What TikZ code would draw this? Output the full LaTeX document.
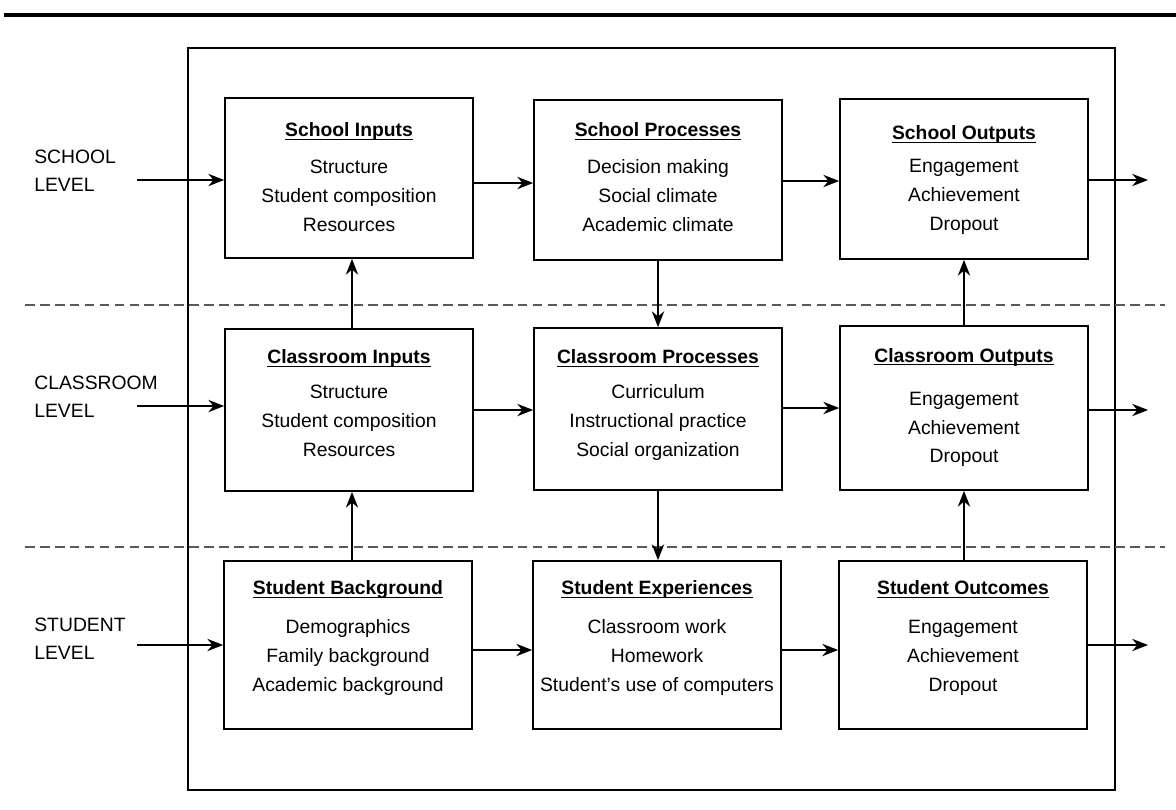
\documentclass[tikz,border=0pt]{standalone}
\usepackage{fontspec}
\setmainfont{Liberation Sans}
\usetikzlibrary{arrows.meta}
\newcommand{\boxtitle}[2][0pt]{\rule{0pt}{#1}\underline{\smash{\textbf{#2}}}}
\begin{document}
\begin{tikzpicture}[x=0.02cm,y=-0.02cm,
    box/.style={draw,line width=1pt,minimum width=4.96cm,align=center,inner sep=0pt,
      font=\fontsize{11}{16.4}\selectfont},
    lvl/.style={anchor=west,align=left,inner sep=0pt,font=\fontsize{11}{15.9}\selectfont},
    flow/.style={-{Stealth[length=9pt,width=7pt]},line width=1pt},
    sep/.style={black!65,line width=1.4pt,dash pattern=on 5.5pt off 3pt}]
    \useasboundingbox (0,0) rectangle (1176,809);
    \draw[line width=2.8pt] (4,15) -- (1176,15);
    \draw[line width=0.8pt] (188,48) rectangle (1115,790);
    \draw[sep] (25,305) -- (1165,305);
    \draw[sep] (25,547) -- (1165,547);
    % levels
    \node[lvl] (lvS) at (34,171) {SCHOOL\\LEVEL};
    \node[lvl] (lvC) at (34,397) {CLASSROOM\\LEVEL};
    \node[lvl] (lvSt) at (34,639) {STUDENT\\LEVEL};
    % school row
    \node[box,minimum height=3.2cm] (sIn) at (349,178)
        {\boxtitle[6.7pt]{School Inputs}\\[4.6pt] Structure\\ Student composition\\ Resources};
    \node[box,minimum height=3.2cm] (sPr) at (658,180)
        {\boxtitle[4.5pt]{School Processes}\\[4.6pt] Decision making\\ Social climate\\ Academic climate};
    \node[box,minimum height=3.2cm] (sOut) at (964,179)
        {\boxtitle[9.1pt]{School Outputs}\\[2.4pt] Engagement\\ Achievement\\ Dropout};
    % classroom row
    \node[box,minimum height=3.24cm] (cIn) at (349,410)
        {\boxtitle{Classroom Inputs}\\[3.5pt] Structure\\ Student composition\\ Resources};
    \node[box,minimum height=3.24cm] (cPr) at (658,409)
        {\boxtitle[3.4pt]{Classroom Processes}\\[3.5pt] Curriculum\\ Instructional practice\\ Social organization};
    \node[box,minimum height=3.28cm] (cOut) at (964,408)
        {\boxtitle[7.5pt]{Classroom Outputs}\\[8pt] Engagement\\ Achievement\\ Dropout};
    % student row
    \node[box,minimum height=3.36cm] (stBg) at (348,645)
        {\boxtitle{Student Background}\\[6pt] Demographics\\ Family background\\ Academic background};
    \node[box,minimum height=3.36cm] (stEx) at (657,645)
        {\boxtitle{Student Experiences}\\[5.5pt] Classroom work\\ Homework\\ Student's use of computers};
    \node[box,minimum height=3.36cm] (stOut) at (963,645)
        {\boxtitle{Student Outcomes}\\[6pt] Engagement\\ Achievement\\ Dropout};
    % free ends
    \coordinate (inS) at (137,180);
    \coordinate (inC) at (137,406);
    \coordinate (inSt) at (137,645);
    \coordinate (outS) at (1148,180);
    \coordinate (outC) at (1148,410);
    \coordinate (outSt) at (1148,645);
    % horizontal flow
    \draw[flow] (inS) -- (inS -| sIn.west);
    \draw[flow] (sIn.east |- 0,183) -- (sPr.west |- 0,183);
    \draw[flow] (sPr.east |- 0,181) -- (sOut.west |- 0,181);
    \draw[flow] (sOut.east |- outS) -- (outS);
    \draw[flow] (inC) -- (inC -| cIn.west);
    \draw[flow] (cIn.east |- 0,410) -- (cPr.west |- 0,410);
    \draw[flow] (cPr.east |- 0,408) -- (cOut.west |- 0,408);
    \draw[flow] (cOut.east |- outC) -- (outC);
    \draw[flow] (inSt) -- (stBg);
    \draw[flow] (stBg.east |- 0,650) -- (stEx.west |- 0,650);
    \draw[flow] (stEx.east |- 0,650) -- (stOut.west |- 0,650);
    \draw[flow] (stOut) -- (outSt);
    % vertical flow
    \draw[flow] (cIn.north -| 352,0) -- (sIn.south -| 352,0);
    \draw[flow] (stBg.north -| 352,0) -- (cIn.south -| 352,0);
    \draw[flow] (sPr) -- (cPr);
    \draw[flow] (cPr) -- (stEx.north -| cPr);
    \draw[flow] (cOut) -- (sOut);
    \draw[flow] (stOut.north -| cOut) -- (cOut.south);
\end{tikzpicture}
\end{document}
